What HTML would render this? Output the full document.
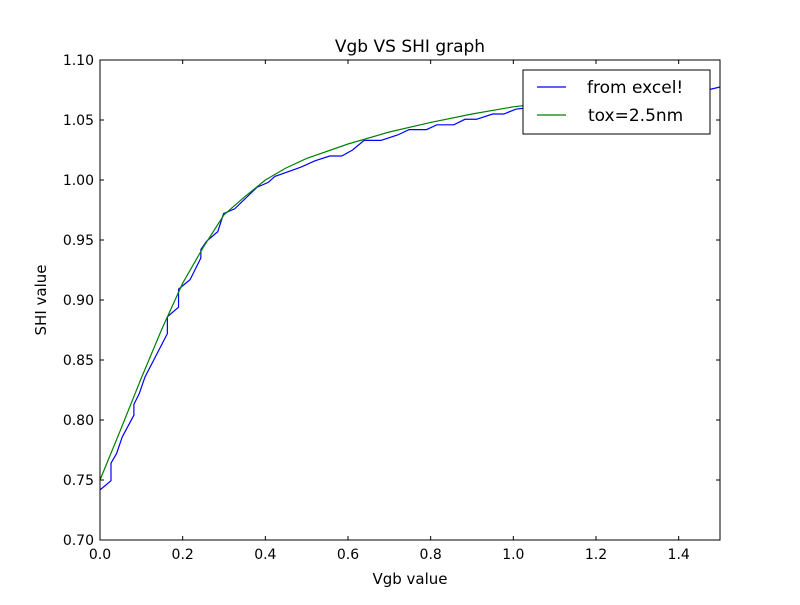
<!DOCTYPE html>
<html><head><meta charset="utf-8"><style>
body{margin:0;background:#fff;font-family:"Liberation Sans","DejaVu Sans",sans-serif}
svg text{font-family:"DejaVu Sans","Liberation Sans",sans-serif;fill:#000}
</style></head><body>
<svg id="chart" width="800" height="600">
<rect width="800" height="600" fill="#fff"/>
<g id="plot"></g>
</svg>
<script>
const blueX=[0,0.0266,0.0266,0.040,0.054,0.082,0.082,0.095,0.109,0.163,0.163,0.190,0.190,0.218,0.244,0.244,0.258,0.285,0.299,0.326,0.380,0.407,0.423,0.464,0.488,0.520,0.556,0.585,0.611,0.639,0.680,0.720,0.748,0.790,0.815,0.856,0.883,0.911,0.950,0.977,1.006,1.1,1.2,1.3,1.4,1.47,1.5];
const blueY=[0.7417,0.7494,0.764,0.772,0.786,0.804,0.813,0.822,0.836,0.872,0.886,0.894,0.909,0.917,0.935,0.942,0.949,0.957,0.972,0.976,0.994,0.998,1.003,1.008,1.011,1.016,1.020,1.020,1.025,1.033,1.033,1.0375,1.042,1.042,1.046,1.046,1.0506,1.0506,1.055,1.055,1.059,1.063,1.066,1.069,1.072,1.075,1.0775];
const greenX=[0,0.05,0.1,0.15,0.2,0.25,0.3,0.35,0.4,0.45,0.5,0.6,0.7,0.8,0.9,1.0,1.1,1.2,1.3,1.45];
const greenY=[0.75,0.792,0.835,0.876,0.914,0.944,0.971,0.986,1.0,1.01,1.018,1.030,1.040,1.048,1.055,1.061,1.065,1.069,1.072,1.075];
const xTicks=["0.0","0.2","0.4","0.6","0.8","1.0","1.2","1.4"];
const yTicks=["0.70","0.75","0.80","0.85","0.90","0.95","1.00","1.05","1.10"];
const L=100,R=720,T=60,B=540;
const xs=v=>L+(v-0)/1.5*(R-L);
const ys=v=>B-(v-0.70)/0.40*(B-T);
const NS="http://www.w3.org/2000/svg";
const g=document.getElementById('plot');
function mk(tag,attrs,parent){const e=document.createElementNS(NS,tag);for(const k in attrs)e.setAttribute(k,attrs[k]);(parent||g).appendChild(e);return e;}
function line(xa,ya,color,name){
 const p=mk('polyline',{points:xa.map((x,i)=>xs(x)+','+ys(ya[i])).join(' '),fill:'none',stroke:color,'stroke-width':1.2});
 
 
}
const clip=mk('clipPath',{id:'c'});mk('rect',{x:L,y:T,width:R-L,height:B-T},clip);
const lg=mk('g',{'clip-path':'url(#c)'});
line(blueX,blueY,'#0000ff','series-from-excel');lg.appendChild(g.lastChild);
line(greenX,greenY,'#008000','series-tox');lg.appendChild(g.lastChild);
const frame=mk('rect',{x:L,y:T,width:R-L,height:B-T,fill:'none',stroke:'#000','stroke-width':1});


xTicks.forEach(t=>{const x=xs(parseFloat(t));
 mk('line',{x1:x,x2:x,y1:B,y2:B-4,stroke:'#000'});mk('line',{x1:x,x2:x,y1:T,y2:T+4,stroke:'#000'});
 const tx=mk('text',{x:x,y:B+19,'text-anchor':'middle','font-size':14});tx.textContent=t;
 
 });
yTicks.forEach(t=>{const y=ys(parseFloat(t));
 mk('line',{x1:L,x2:L+4,y1:y,y2:y,stroke:'#000'});mk('line',{x1:R,x2:R-4,y1:y,y2:y,stroke:'#000'});
 const tx=mk('text',{x:L-6,y:y+5,'text-anchor':'end','font-size':14});tx.textContent=t;
 
 });
const ti=mk('text',{x:410,y:52,'text-anchor':'middle','font-size':17});ti.textContent='Vgb VS SHI graph';


const xl=mk('text',{x:410,y:584,'text-anchor':'middle','font-size':15});xl.textContent='Vgb value';


const yl=mk('text',{x:46,y:300,'text-anchor':'middle','font-size':15,transform:'rotate(-90 46 300)'});yl.textContent='SHI value';


const leg=mk('g',{});


mk('rect',{x:523,y:70,width:187,height:64,fill:'#fff',stroke:'#000'},leg);
mk('line',{x1:537,x2:566,y1:87,y2:87,stroke:'#0000ff','stroke-width':1.2},leg);
mk('line',{x1:537,x2:566,y1:115,y2:115,stroke:'#008000','stroke-width':1.2},leg);
const t1=mk('text',{x:587,y:93,'font-size':17},leg);t1.textContent='from excel!';


const t2=mk('text',{x:588,y:121,'font-size':17},leg);t2.textContent='tox=2.5nm';


</script>
</body></html>
